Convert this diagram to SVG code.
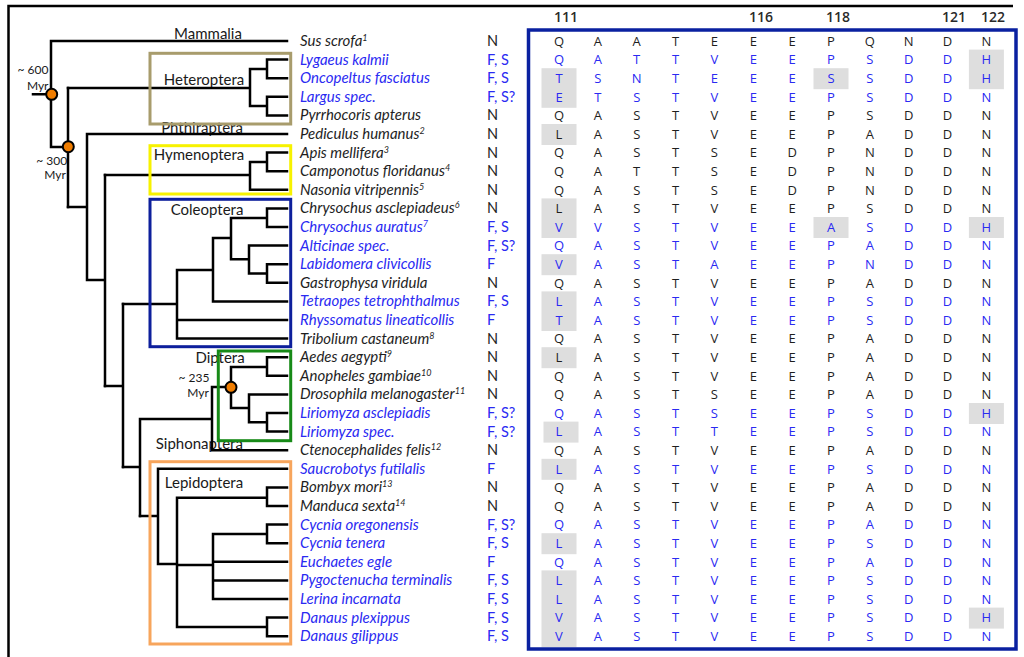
<svg xmlns="http://www.w3.org/2000/svg" width="1024" height="657" viewBox="0 0 1024 657">
<style>
.sp{font-family:Lato,"Open Sans",sans-serif;font-style:italic;font-size:15px}
.st{font-family:Lato,"Open Sans",sans-serif;font-size:14.5px}
.b{fill:#2a2af2}
.k{fill:#1e1e1e}
.aa{font-family:"Open Sans","Liberation Sans",sans-serif;font-size:13px;text-anchor:middle}
.hl{fill:#dedede}
.tree{stroke:#000;stroke-width:2.5;fill:none;stroke-linecap:square}
.lab{font-family:Lato,"Open Sans",sans-serif;font-size:15px;fill:#1a1a1a;text-anchor:middle}
.age{font-family:Lato,"Open Sans",sans-serif;font-size:12px;fill:#1a1a1a;text-anchor:middle}
.node{fill:#f07d00;stroke:#000;stroke-width:2}
.box{fill:none;stroke-width:3}
.hdr{font-family:"Open Sans","Liberation Sans",sans-serif;font-size:14px;font-weight:600;fill:#2a2a2a;text-anchor:middle}
</style>
<rect width="1024" height="657" fill="#fff"/>
<path d="M8.5,657 V6 H1013" fill="none" stroke="#000" stroke-width="2.5"/>

<g id="labels">
<text class="lab" x="208" y="38.5">Mammalia</text>
<text class="lab" x="204" y="85">Heteroptera</text>
<text class="lab" x="202" y="133">Phthiraptera</text>
<text class="lab" x="199" y="160">Hymenoptera</text>
<text class="lab" x="207" y="215">Coleoptera</text>
<text class="lab" x="220" y="363.3">Diptera</text>
<text class="lab" x="199.3" y="449.3">Siphonaptera</text>
<text class="lab" x="204" y="488.3">Lepidoptera</text>
<text class="age" x="33" y="74">~ 600</text>
<text class="age" x="37.7" y="90">Myr</text>
<text class="age" x="51.7" y="165">~ 300</text>
<text class="age" x="55" y="179.3">Myr</text>
<text class="age" x="194" y="382.3">~ 235</text>
<text class="age" x="198" y="396.7">Myr</text>
</g>

<g id="connectors" class="tree">
<path d="M33,94.3 H51 M51,41 V147 M51,41 H287 M51,147 H68 M68,88 V207"/>
<path d="M68,88 H250 M250,69 V106 M250,69 H267 M250,106 H267 M267,59.6 V78.2 M267,59.6 H287 M267,78.2 H287 M267,96.8 V115.4 M267,96.8 H287 M267,115.4 H287"/>
<path d="M68,207 H87 M87,134 V280 M87,134 H287 M87,280 H105 M105,175 V386"/>
<path d="M105,175 H250 M250,162 V189.8 M250,162 H267 M250,189.8 H287 M267,152.6 V171.2 M267,152.6 H287 M267,171.2 H287"/>
<path d="M105,386 H123 M123,304 V467"/>
<path d="M123,304 H177 M177,270 V338.6 M177,338.6 H287 M177,320 H287 M177,270 H213 M213,238 V301.4 M213,301.4 H287 M213,238 H231 M231,218 V259.3 M231,218 H267 M267,208.4 V227 M267,208.4 H287 M267,227 H287 M231,259.3 H249 M249,245.6 V273.5 M249,245.6 H287 M249,273.5 H267 M267,264.2 V282.8 M267,264.2 H287 M267,282.8 H287"/>
<path d="M123,467 H140 M140,419 V516 M140,419 H212 M212,387 V450.2 M212,450.2 H287 M212,387 H231 M231,367 V408 M231,367 H267 M267,357.2 V375.8 M267,357.2 H287 M267,375.8 H287 M231,408 H249 M249,394.4 V422.3 M249,394.4 H287 M249,422.3 H267 M267,413 V431.6 M267,413 H287 M267,431.6 H287"/>
<path d="M140,516 H158 M158,468.8 V564 M158,468.8 H287 M158,564 H177 M177,497.7 V627 M177,497.7 H267 M267,487.4 V506 M267,487.4 H287 M267,506 H287 M177,565 H213 M213,534 V599 M213,534 H267 M267,524.6 V543.2 M267,524.6 H287 M267,543.2 H287 M213,561.8 H287 M213,580.4 H287 M213,599 H287 M177,627 H267 M267,617.6 V636.2 M267,617.6 H287 M267,636.2 H287"/>
</g>

<g id="divergence-nodes">
<circle class="node" cx="51.7" cy="94.3" r="5.5"/>
<circle class="node" cx="68.3" cy="146.7" r="5.5"/>
<circle class="node" cx="231" cy="387.3" r="5.5"/>
</g>

<g id="clade-heteroptera"><rect class="box" x="150" y="53.3" width="140.7" height="70.7" stroke="#a89c6c"/></g>
<g id="clade-hymenoptera"><rect class="box" x="150" y="145.7" width="140.7" height="48.3" stroke="#f7f200"/></g>
<g id="clade-coleoptera"><rect class="box" x="150" y="199.3" width="140.7" height="147.4" stroke="#0d1f9c"/></g>
<g id="clade-diptera"><rect class="box" x="218.3" y="351" width="72.4" height="89.7" stroke="#178a17"/></g>
<g id="clade-lepidoptera"><rect class="box" x="150" y="461.7" width="140.7" height="182.3" stroke="#f7a55c"/></g>

<g id="species">
<text class="sp k" x="300" y="46">Sus scrofa<tspan font-size="9" dy="-5">1</tspan></text>
<text class="sp b" x="300" y="64.6">Lygaeus kalmii</text>
<text class="sp b" x="300" y="83.2">Oncopeltus fasciatus</text>
<text class="sp b" x="300" y="101.8">Largus spec.</text>
<text class="sp k" x="300" y="120.4">Pyrrhocoris apterus</text>
<text class="sp k" x="300" y="139">Pediculus humanus<tspan font-size="9" dy="-5">2</tspan></text>
<text class="sp k" x="300" y="157.6">Apis mellifera<tspan font-size="9" dy="-5">3</tspan></text>
<text class="sp k" x="300" y="176.2">Camponotus floridanus<tspan font-size="9" dy="-5">4</tspan></text>
<text class="sp k" x="300" y="194.8">Nasonia vitripennis<tspan font-size="9" dy="-5">5</tspan></text>
<text class="sp k" x="300" y="213.4">Chrysochus asclepiadeus<tspan font-size="9" dy="-5">6</tspan></text>
<text class="sp b" x="300" y="232">Chrysochus auratus<tspan font-size="9" dy="-5">7</tspan></text>
<text class="sp b" x="300" y="250.6">Alticinae spec.</text>
<text class="sp b" x="300" y="269.2">Labidomera clivicollis</text>
<text class="sp k" x="300" y="287.8">Gastrophysa viridula</text>
<text class="sp b" x="300" y="306.4">Tetraopes tetrophthalmus</text>
<text class="sp b" x="300" y="325">Rhyssomatus lineaticollis</text>
<text class="sp k" x="300" y="343.6">Tribolium castaneum<tspan font-size="9" dy="-5">8</tspan></text>
<text class="sp k" x="300" y="362.2">Aedes aegypti<tspan font-size="9" dy="-5">9</tspan></text>
<text class="sp k" x="300" y="380.8">Anopheles gambiae<tspan font-size="9" dy="-5">10</tspan></text>
<text class="sp k" x="300" y="399.4">Drosophila melanogaster<tspan font-size="9" dy="-5">11</tspan></text>
<text class="sp b" x="300" y="418">Liriomyza asclepiadis</text>
<text class="sp b" x="300" y="436.6">Liriomyza spec.</text>
<text class="sp k" x="300" y="455.2">Ctenocephalides felis<tspan font-size="9" dy="-5">12</tspan></text>
<text class="sp b" x="300" y="473.8">Saucrobotys futilalis</text>
<text class="sp k" x="300" y="492.4">Bombyx mori<tspan font-size="9" dy="-5">13</tspan></text>
<text class="sp k" x="300" y="511">Manduca sexta<tspan font-size="9" dy="-5">14</tspan></text>
<text class="sp b" x="300" y="529.6">Cycnia oregonensis</text>
<text class="sp b" x="300" y="548.2">Cycnia tenera</text>
<text class="sp b" x="300" y="566.8">Euchaetes egle</text>
<text class="sp b" x="300" y="585.4">Pygoctenucha terminalis</text>
<text class="sp b" x="300" y="604">Lerina incarnata</text>
<text class="sp b" x="300" y="622.6">Danaus plexippus</text>
<text class="sp b" x="300" y="641.2">Danaus gilippus</text>
</g>

<g id="status">
<text class="st k" x="487" y="46">N</text>
<text class="st b" x="487" y="64.6">F, S</text>
<text class="st b" x="487" y="83.2">F, S</text>
<text class="st b" x="487" y="101.8">F, S?</text>
<text class="st k" x="487" y="120.4">N</text>
<text class="st k" x="487" y="139">N</text>
<text class="st k" x="487" y="157.6">N</text>
<text class="st k" x="487" y="176.2">N</text>
<text class="st k" x="487" y="194.8">N</text>
<text class="st k" x="487" y="213.4">N</text>
<text class="st b" x="487" y="232">F, S</text>
<text class="st b" x="487" y="250.6">F, S?</text>
<text class="st b" x="487" y="269.2">F</text>
<text class="st k" x="487" y="287.8">N</text>
<text class="st b" x="487" y="306.4">F, S</text>
<text class="st b" x="487" y="325">F</text>
<text class="st k" x="487" y="343.6">N</text>
<text class="st k" x="487" y="362.2">N</text>
<text class="st k" x="487" y="380.8">N</text>
<text class="st k" x="487" y="399.4">N</text>
<text class="st b" x="487" y="418">F, S?</text>
<text class="st b" x="487" y="436.6">F, S?</text>
<text class="st k" x="487" y="455.2">N</text>
<text class="st b" x="487" y="473.8">F</text>
<text class="st k" x="487" y="492.4">N</text>
<text class="st k" x="487" y="511">N</text>
<text class="st b" x="487" y="529.6">F, S?</text>
<text class="st b" x="487" y="548.2">F, S</text>
<text class="st b" x="487" y="566.8">F</text>
<text class="st b" x="487" y="585.4">F, S</text>
<text class="st b" x="487" y="604">F, S</text>
<text class="st b" x="487" y="622.6">F, S</text>
<text class="st b" x="487" y="641.2">F, S</text>
</g>

<g id="alignment">
<g id="highlights">
<rect class="hl" x="968.9" y="49.6" width="35" height="39.6"/>
<rect class="hl" x="541.5" y="68.2" width="35" height="39.6"/>
<rect class="hl" x="813.5" y="68.2" width="35" height="21"/>
<rect class="hl" x="541.5" y="124" width="35" height="21"/>
<rect class="hl" x="541.5" y="198.4" width="35" height="39.6"/>
<rect class="hl" x="813.5" y="217" width="35" height="21"/>
<rect class="hl" x="968.9" y="217" width="35" height="21"/>
<rect class="hl" x="541.5" y="254.2" width="35" height="21"/>
<rect class="hl" x="541.5" y="291.4" width="35" height="39.6"/>
<rect class="hl" x="541.5" y="347.2" width="35" height="21"/>
<rect class="hl" x="968.9" y="403" width="35" height="21"/>
<rect class="hl" x="543.5" y="421.6" width="35" height="21"/>
<rect class="hl" x="541.5" y="458.8" width="35" height="21"/>
<rect class="hl" x="541.5" y="533.2" width="35" height="21"/>
<rect class="hl" x="541.5" y="570.4" width="35" height="76.8"/>
<rect class="hl" x="968.9" y="607.6" width="35" height="21"/>
</g>
<g id="positions">
<text class="hdr" x="566" y="21.7">111</text>
<text class="hdr" x="761" y="21.7">116</text>
<text class="hdr" x="838" y="21.7">118</text>
<text class="hdr" x="954" y="21.7">121</text>
<text class="hdr" x="993" y="21.7">122</text>
</g>
<rect id="alignment-box" x="528.5" y="30" width="487.5" height="619" fill="none" stroke="#0a20a0" stroke-width="3.5"/>
<g id="residues">
<text class="aa k" x="559 597.9 636.7 675.6 714.4 753.3 792.1 831 869.8 908.7 947.5 986.4" y="45.7">QAATEEEPQNDN</text>
<text class="aa b" x="559 597.9 636.7 675.6 714.4 753.3 792.1 831 869.8 908.7 947.5 986.4" y="64.3">QATTVEEPSDDH</text>
<text class="aa b" x="559 597.9 636.7 675.6 714.4 753.3 792.1 831 869.8 908.7 947.5 986.4" y="82.9">TSNTEEESSDDH</text>
<text class="aa b" x="559 597.9 636.7 675.6 714.4 753.3 792.1 831 869.8 908.7 947.5 986.4" y="101.5">ETSTVEEPSDDN</text>
<text class="aa k" x="559 597.9 636.7 675.6 714.4 753.3 792.1 831 869.8 908.7 947.5 986.4" y="120.1">QASTVEEPSDDN</text>
<text class="aa k" x="559 597.9 636.7 675.6 714.4 753.3 792.1 831 869.8 908.7 947.5 986.4" y="138.7">LASTVEEPADDN</text>
<text class="aa k" x="559 597.9 636.7 675.6 714.4 753.3 792.1 831 869.8 908.7 947.5 986.4" y="157.3">QASTSEDPNDDN</text>
<text class="aa k" x="559 597.9 636.7 675.6 714.4 753.3 792.1 831 869.8 908.7 947.5 986.4" y="175.9">QATTSEDPNDDN</text>
<text class="aa k" x="559 597.9 636.7 675.6 714.4 753.3 792.1 831 869.8 908.7 947.5 986.4" y="194.5">QASTSEDPNDDN</text>
<text class="aa k" x="559 597.9 636.7 675.6 714.4 753.3 792.1 831 869.8 908.7 947.5 986.4" y="213.1">LASTVEEPSDDN</text>
<text class="aa b" x="559 597.9 636.7 675.6 714.4 753.3 792.1 831 869.8 908.7 947.5 986.4" y="231.7">VVSTVEEASDDH</text>
<text class="aa b" x="559 597.9 636.7 675.6 714.4 753.3 792.1 831 869.8 908.7 947.5 986.4" y="250.3">QASTVEEPADDN</text>
<text class="aa b" x="559 597.9 636.7 675.6 714.4 753.3 792.1 831 869.8 908.7 947.5 986.4" y="268.9">VASTAEEPNDDN</text>
<text class="aa k" x="559 597.9 636.7 675.6 714.4 753.3 792.1 831 869.8 908.7 947.5 986.4" y="287.5">QASTVEEPADDN</text>
<text class="aa b" x="559 597.9 636.7 675.6 714.4 753.3 792.1 831 869.8 908.7 947.5 986.4" y="306.1">LASTVEEPSDDN</text>
<text class="aa b" x="559 597.9 636.7 675.6 714.4 753.3 792.1 831 869.8 908.7 947.5 986.4" y="324.7">TASTVEEPSDDN</text>
<text class="aa k" x="559 597.9 636.7 675.6 714.4 753.3 792.1 831 869.8 908.7 947.5 986.4" y="343.3">QASTVEEPADDN</text>
<text class="aa k" x="559 597.9 636.7 675.6 714.4 753.3 792.1 831 869.8 908.7 947.5 986.4" y="361.9">LASTVEEPADDN</text>
<text class="aa k" x="559 597.9 636.7 675.6 714.4 753.3 792.1 831 869.8 908.7 947.5 986.4" y="380.5">QASTVEEPADDN</text>
<text class="aa k" x="559 597.9 636.7 675.6 714.4 753.3 792.1 831 869.8 908.7 947.5 986.4" y="399.1">QASTSEEPADDN</text>
<text class="aa b" x="559 597.9 636.7 675.6 714.4 753.3 792.1 831 869.8 908.7 947.5 986.4" y="417.7">QASTSEEPSDDH</text>
<text class="aa b" x="559 597.9 636.7 675.6 714.4 753.3 792.1 831 869.8 908.7 947.5 986.4" y="436.3">LASTTEEPSDDN</text>
<text class="aa k" x="559 597.9 636.7 675.6 714.4 753.3 792.1 831 869.8 908.7 947.5 986.4" y="454.9">QASTVEEPADDN</text>
<text class="aa b" x="559 597.9 636.7 675.6 714.4 753.3 792.1 831 869.8 908.7 947.5 986.4" y="473.5">LASTVEEPSDDN</text>
<text class="aa k" x="559 597.9 636.7 675.6 714.4 753.3 792.1 831 869.8 908.7 947.5 986.4" y="492.1">QASTVEEPADDN</text>
<text class="aa k" x="559 597.9 636.7 675.6 714.4 753.3 792.1 831 869.8 908.7 947.5 986.4" y="510.7">QASTVEEPADDN</text>
<text class="aa b" x="559 597.9 636.7 675.6 714.4 753.3 792.1 831 869.8 908.7 947.5 986.4" y="529.3">QASTVEEPADDN</text>
<text class="aa b" x="559 597.9 636.7 675.6 714.4 753.3 792.1 831 869.8 908.7 947.5 986.4" y="547.9">LASTVEEPSDDN</text>
<text class="aa b" x="559 597.9 636.7 675.6 714.4 753.3 792.1 831 869.8 908.7 947.5 986.4" y="566.5">QASTVEEPADDN</text>
<text class="aa b" x="559 597.9 636.7 675.6 714.4 753.3 792.1 831 869.8 908.7 947.5 986.4" y="585.1">LASTVEEPSDDN</text>
<text class="aa b" x="559 597.9 636.7 675.6 714.4 753.3 792.1 831 869.8 908.7 947.5 986.4" y="603.7">LASTVEEPSDDN</text>
<text class="aa b" x="559 597.9 636.7 675.6 714.4 753.3 792.1 831 869.8 908.7 947.5 986.4" y="622.3">VASTVEEPSDDH</text>
<text class="aa b" x="559 597.9 636.7 675.6 714.4 753.3 792.1 831 869.8 908.7 947.5 986.4" y="640.9">VASTVEEPSDDN</text>
</g>
</g>
</svg>
